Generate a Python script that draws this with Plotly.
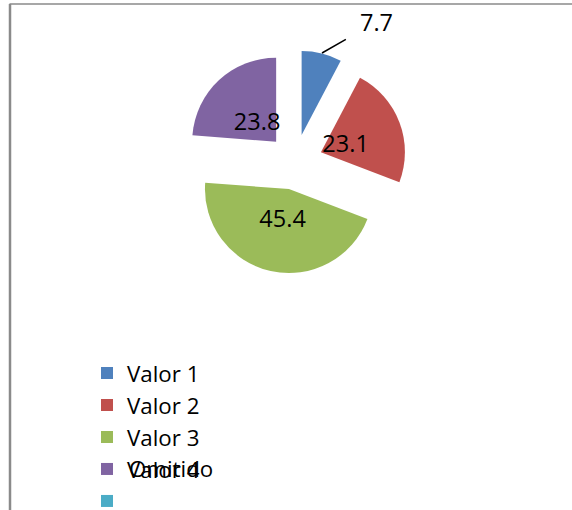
import plotly.graph_objects as go

labels = ["Valor 1", "Valor 2", "Valor 3", "Valor 4", " "]
values = [7.7, 23.1, 45.4, 23.8, 0]
colors = ["#4F81BD", "#C0504D", "#9BBB59", "#8064A2", "#4BACC6"]
omitted_label = "Omitido"

# label-layer styling (where the value labels sit inside the slices)
label_positions = ["none", "inside", "inside", "inside", "none"]
label_pull = [0, 0.110, 0.247, 0.138, 0]

W, H = 572, 510
FONT = "Open Sans, Noto Sans, sans-serif"
CX, CY = 295, 162  # pie centre (px)

def dom(half):
    return dict(x=[(CX - half) / W, (CX + half) / W],
                y=[1 - (CY + half) / H, 1 - (CY - half) / H])

fig = go.Figure()
# main exploded pie
fig.add_trace(go.Pie(
    labels=labels,
    values=values,
    sort=False,
    direction="clockwise",
    rotation=0,
    pull=0.33,
    marker=dict(colors=colors, line=dict(width=0)),
    textinfo="none",
    domain=dom(111.7),
    hoverinfo="label+value",
    showlegend=True,
))
# transparent label layer carrying the value labels
fig.add_trace(go.Pie(
    labels=labels,
    values=values,
    sort=False,
    direction="clockwise",
    rotation=0,
    pull=label_pull,
    marker=dict(colors=["rgba(0,0,0,0)"] * len(values), line=dict(width=0)),
    texttemplate="%{value}",
    textposition=label_positions,
    insidetextorientation="horizontal",
    textfont=dict(family=FONT, size=23.5, color="#000000"),
    domain=dom(94.8),
    hoverinfo="skip",
    showlegend=False,
))

# outside label for the small slice, with leader line
fig.add_annotation(
    x=322 / W, y=1 - 53 / H, xref="paper", yref="paper",
    text=str(values[0]), showarrow=True, arrowhead=0, arrowwidth=1.5,
    arrowcolor="#000000", ax=54, ay=-31, startstandoff=14,
    font=dict(family=FONT, size=23.5, color="#000000"),
)

# overlapping "Omitido" text on the 4th legend row
fig.add_annotation(
    x=127 / W, y=1 - 468 / H, xref="paper", yref="paper",
    text=omitted_label, showarrow=False, xanchor="left", yanchor="middle",
    font=dict(family=FONT, size=22.3, color="#000000"),
)

# chart border (top and left edges visible)
fig.add_shape(type="line", xref="paper", yref="paper",
              x0=9.5 / W, x1=1.05, y0=1 - 4 / H, y1=1 - 4 / H,
              line=dict(color="#8a8a8a", width=1.5))
fig.add_shape(type="line", xref="paper", yref="paper",
              x0=10 / W, x1=10 / W, y0=1 - 4 / H, y1=-0.05,
              line=dict(color="#8a8a8a", width=2.5))

fig.update_layout(
    width=W, height=H,
    margin=dict(l=0, r=0, t=0, b=0, autoexpand=False),
    paper_bgcolor="white",
    plot_bgcolor="white",
    font=dict(family=FONT, size=22.3, color="#000000"),
    legend=dict(
        x=87 / W, y=1 - 352 / H, xanchor="left", yanchor="top",
        font=dict(family=FONT, size=22.3, color="#000000"),
        bgcolor="rgba(0,0,0,0)", borderwidth=0,
        tracegroupgap=0,
    ),
)

fig.write_html("out.html", post_script="document.body.style.margin='0';",
               config={"displayModeBar": False})
